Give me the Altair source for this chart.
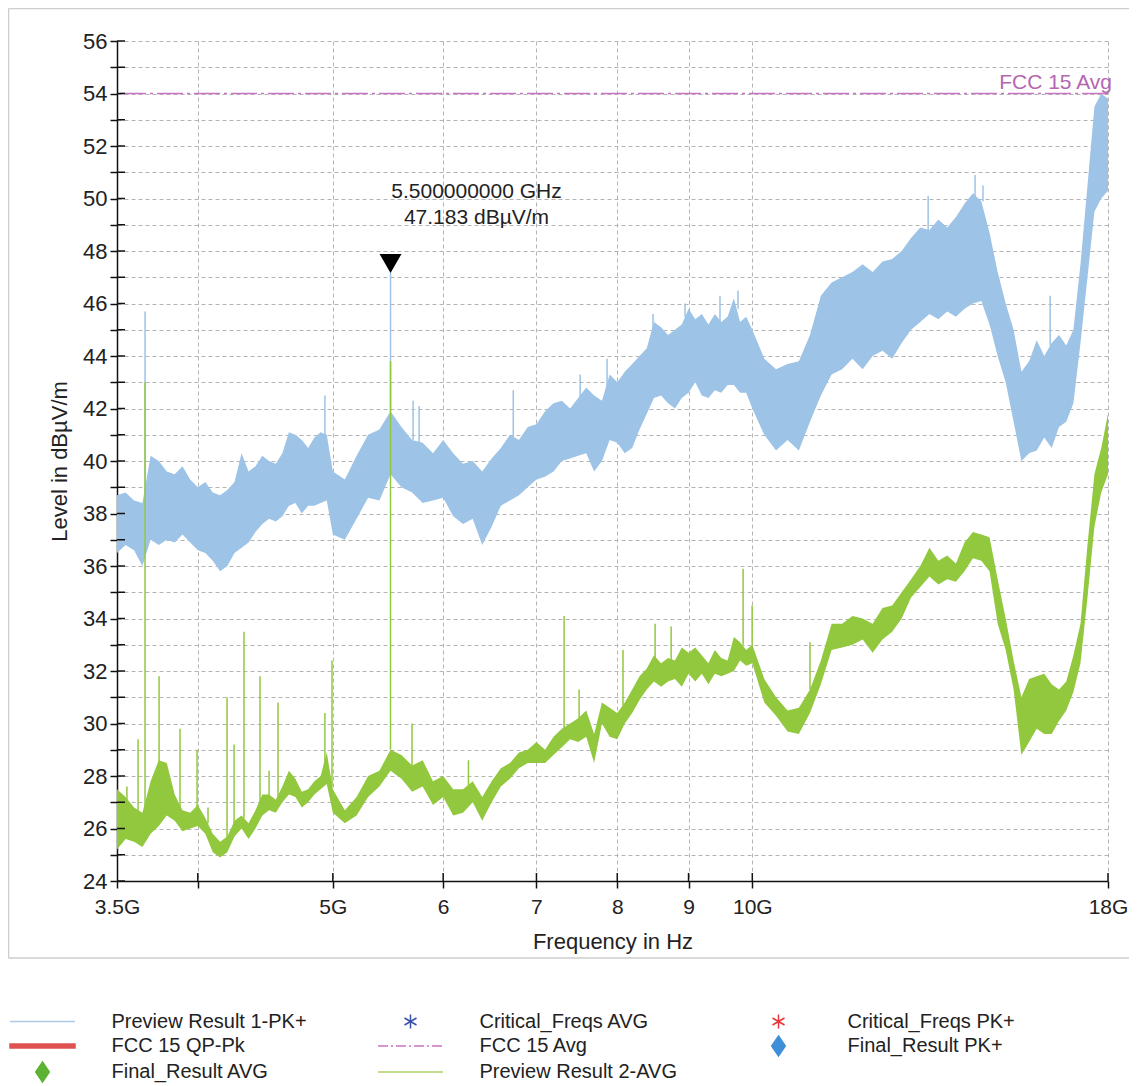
import altair as alt
import pandas as pd

FONT = "Liberation Sans"

# ---------------- data ----------------
freq_ghz = [3.50, 3.55, 3.60, 3.65, 3.70, 3.75, 3.80, 3.85, 3.90, 3.95,
            4.00, 4.05, 4.10, 4.15, 4.20, 4.25, 4.30, 4.35, 4.40, 4.45,
            4.50, 4.55, 4.60, 4.65, 4.70, 4.75, 4.80, 4.85, 4.90, 4.95,
            5.0, 5.1, 5.2, 5.3, 5.4, 5.5, 5.6, 5.7, 5.8, 5.9,
            6.0, 6.1, 6.2, 6.3, 6.4, 6.5, 6.6, 6.7, 6.8, 6.9,
            7.0, 7.1, 7.2, 7.3, 7.4, 7.5, 7.6, 7.7, 7.8, 7.9,
            8.0, 8.1, 8.2, 8.3, 8.4, 8.5, 8.6, 8.7, 8.8, 8.9,
            9.0, 9.1, 9.2, 9.3, 9.4, 9.5, 9.6, 9.7, 9.8, 9.9,
            10.0, 10.2, 10.4, 10.6, 10.8, 11.0, 11.2, 11.4, 11.6, 11.8,
            12.0, 12.2, 12.4, 12.6, 12.8, 13.0, 13.2, 13.4, 13.6, 13.8,
            14.0, 14.2, 14.4, 14.6, 14.8, 15.0, 15.2, 15.4, 15.6, 15.8,
            16.0, 16.2, 16.4, 16.6, 16.8, 17.0, 17.2, 17.4, 17.6, 17.8,
            18.0]

pk_low = [36.5, 36.8, 36.6, 36.0, 37.0, 36.8, 37.0, 36.9, 37.2, 36.9,
          36.6, 36.5, 36.2, 35.8, 36.0, 36.5, 36.7, 36.9, 37.3, 37.6,
          37.8, 37.7, 37.9, 38.3, 38.4, 38.0, 38.3, 38.3, 38.4, 38.5,
          37.2, 37.0, 37.8, 38.6, 38.5, 39.5, 39.0, 38.8, 38.4, 38.5,
          38.6, 37.9, 37.6, 37.8, 36.8, 37.5, 38.3, 38.5, 38.7, 39.0,
          39.3, 39.4, 39.6, 40.0, 40.1, 40.2, 40.3, 39.6, 40.0, 40.8,
          40.7, 40.3, 40.5, 41.2, 41.8, 42.4, 42.5, 42.2, 42.0, 42.4,
          42.6, 43.0, 42.5, 42.4, 42.7, 42.6, 42.9, 42.9, 42.6, 42.6,
          42.0, 41.0, 40.4, 40.8, 40.4, 41.5, 42.5, 43.3, 43.5, 43.9,
          43.5, 44.0, 44.2, 43.9, 44.5, 45.0, 45.3, 45.6, 45.4, 45.7,
          45.5, 45.8, 46.0, 46.1, 45.2, 44.0, 43.0, 41.5, 40.0, 40.3,
          40.4, 40.9, 40.5, 41.3, 41.5, 42.2, 44.5, 47.0, 49.5, 50.0,
          50.3]

pk_high = [38.7, 38.8, 38.5, 38.4, 40.2, 40.0, 39.6, 39.5, 39.8, 39.3,
           39.0, 39.2, 38.8, 38.7, 38.9, 39.2, 40.3, 39.6, 39.8, 40.2,
           40.0, 39.9, 40.3, 41.1, 41.0, 40.8, 40.5, 40.9, 41.1, 41.0,
           39.6, 39.3, 40.2, 41.0, 41.2, 41.9, 41.3, 40.8, 40.7, 40.3,
           40.8, 40.3, 39.9, 40.0, 39.6, 40.1, 40.5, 41.0, 40.8, 41.3,
           41.4, 41.9, 42.2, 42.3, 42.0, 42.4, 42.8, 42.5, 42.3, 43.3,
           43.0, 43.4, 43.7, 44.0, 44.3, 45.3, 45.1, 44.8, 45.0, 45.2,
           45.8, 45.4, 45.6, 45.2, 45.6, 45.3, 45.5, 46.2, 45.3, 45.5,
           45.0, 43.9, 43.5, 43.7, 43.8, 44.8, 46.3, 46.8, 47.0, 47.2,
           47.5, 47.2, 47.6, 47.7, 48.0, 48.5, 48.9, 48.8, 49.2, 48.9,
           49.3, 49.8, 50.2, 49.9, 48.7, 47.2, 46.0, 45.0, 43.4, 43.8,
           44.6, 44.0, 44.5, 44.8, 44.4, 45.0, 47.5, 50.5, 53.5, 54.0,
           53.8]

avg_low = [25.2, 25.6, 25.5, 25.3, 25.8, 26.1, 26.5, 26.3, 25.9, 26.0,
           26.1, 25.8, 25.1, 24.9, 25.1, 25.7, 26.0, 25.6, 26.0, 26.5,
           26.7, 26.6, 27.0, 27.3, 27.2, 26.8, 27.0, 27.3, 27.5, 27.7,
           26.6, 26.2, 26.5, 27.2, 27.6, 28.2, 27.9, 27.4, 27.6, 26.9,
           27.2, 26.5, 26.6, 27.0, 26.3, 27.0, 27.6, 27.9, 28.3, 28.5,
           28.5, 28.5, 28.8, 29.1, 29.4, 29.3, 29.5, 28.5, 30.0, 29.5,
           29.4, 30.0, 30.4, 30.9, 31.3, 31.6, 31.4, 31.6, 31.7, 31.4,
           31.9, 31.6, 31.9, 31.5, 31.9, 31.8, 31.9, 32.0, 32.4, 32.2,
           32.3, 30.8, 30.3, 29.7, 29.6, 30.4, 31.5, 32.8, 32.9, 33.0,
           33.2, 32.7, 33.2, 33.5, 34.0, 34.8, 35.2, 35.6, 35.3, 35.5,
           35.4, 35.8, 36.3, 36.2, 35.8, 33.8, 32.8, 31.3, 28.8, 29.3,
           29.8, 29.6, 29.6, 30.1, 30.5, 31.2, 32.3, 34.8, 37.5, 38.8,
           39.5]

avg_high = [27.5, 27.2, 26.8, 26.6, 27.8, 28.6, 28.5, 27.3, 26.7, 26.6,
            26.9, 26.4, 25.8, 25.5, 25.7, 26.3, 26.5, 26.2, 26.7, 27.3,
            27.3, 27.1, 27.6, 28.2, 27.9, 27.4, 27.5, 27.8, 28.0, 28.9,
            27.5, 26.7, 27.2, 28.0, 28.2, 29.0, 28.8, 28.4, 28.6, 27.8,
            28.0, 27.5, 27.5, 27.8, 27.2, 27.8, 28.3, 28.5, 28.9, 29.0,
            29.3, 29.0, 29.5, 29.8, 30.0, 30.2, 30.5, 29.6, 30.8, 30.6,
            30.4, 30.8, 31.3, 31.8, 32.1, 32.6, 32.3, 32.5, 32.4, 32.9,
            32.7, 32.9, 32.6, 32.3, 32.8, 32.5, 32.4, 33.3, 33.1, 32.8,
            33.0, 31.7, 31.0, 30.5, 30.6, 31.3, 32.4, 33.8, 33.8, 34.1,
            34.0, 33.8, 34.4, 34.5, 35.0, 35.5, 36.0, 36.7, 36.2, 36.4,
            36.1, 36.9, 37.3, 37.2, 37.1, 35.5, 34.0, 32.4, 31.0, 31.7,
            31.8, 31.9, 31.5, 31.3, 31.6, 32.6, 33.8, 36.8, 39.5, 40.5,
            41.8]

pk_spike_freq = [3.666, 4.935, 5.5, 5.709, 5.766, 6.737, 7.524, 7.866, 8.487,
                 8.948, 9.480, 9.767, 13.372, 14.45, 14.64, 16.36]
pk_spike_base = [38.4, 40.8, 41.9, 40.8, 40.7, 40.9, 42.4, 42.5, 45.0,
                 45.5, 45.3, 45.8, 48.8, 50.1, 49.9, 44.4]
pk_spike_top = [45.7, 42.5, 47.183, 42.3, 42.1, 42.7, 43.3, 43.9, 45.6,
                46.0, 46.3, 46.5, 50.1, 50.9, 50.5, 46.3]

avg_spike_freq = [3.558, 3.624, 3.666, 3.752, 3.884, 3.995, 4.068, 4.198, 4.247,
                  4.317, 4.433, 4.500, 4.567, 4.935, 4.993, 5.5, 5.699, 6.256,
                  7.327, 7.511, 8.076, 8.516, 8.745, 9.849, 9.997, 11.0]
avg_spike_base = [26.5, 26.6, 26.6, 28.3, 26.6, 26.8, 26.2, 25.6, 26.2,
                  26.4, 26.6, 27.2, 27.1, 28.5, 27.6, 29.0, 28.4, 27.5,
                  29.8, 30.1, 30.7, 32.5, 32.4, 33.0, 33.0, 31.3]
avg_spike_top = [27.6, 29.4, 43.0, 31.8, 29.8, 29.0, 26.8, 31.0, 29.2,
                 33.5, 31.8, 28.2, 30.8, 30.4, 32.4, 43.8, 30.0, 28.6,
                 34.1, 31.3, 32.8, 33.8, 33.7, 35.9, 34.5, 33.1]

limit_name = ["FCC 15 Avg"]
limit_level = [54]
limit_label_freq = [18.0]

marker_freq = [5.5]
marker_level = [47.183]

x_ticks = [3.5, 4, 5, 6, 7, 8, 9, 10, 18]
x_tick_labels = ["3.5G", "", "5G", "6", "7", "8", "9", "10G", "18G"]
y_ticks = list(range(24, 57))

legend_names = ["Preview Result 1-PK+", "Critical_Freqs AVG", "Critical_Freqs PK+",
                "FCC 15 QP-Pk", "FCC 15 Avg", "Final_Result PK+",
                "Final_Result AVG", "Preview Result 2-AVG"]

# ---------------- styles ----------------
BLUE = "#9DC3E6"
GREEN = "#92C83E"
LIMIT = "#C774C2"
GRID = "#B4B4B4"
AXIS = "#111111"
FRAME = "#CDCDCD"

LINE = "M-3.25,0H3.25"
THICK = "M-3.25,-0.2H3.25V0.2H-3.25Z"
DASHDOT = "M-3.25,0H-2.25M-1.95,0H-1.75M-1.45,0H-0.45M-0.15,0H0.05M0.35,0H1.35M1.65,0H1.85M2.15,0H3.15"
STAR = "M0,-0.7V0.7M-0.6,-0.35L0.6,0.35M-0.6,0.35L0.6,-0.35"
DIAMOND = "M0,-1L0.68,0L0,1L-0.68,0Z"

legend_fill = ["transparent", "transparent", "transparent", "#E05252", "transparent",
               "#3D8FD8", "#5DB233", "transparent"]
legend_stroke = ["#A9CBE8", "#3A4FA8", "#E8353A", "#E05252", LIMIT,
                 "#3D8FD8", "#5DB233", "#AFCF6A"]
legend_shape = [LINE, STAR, STAR, THICK, DASHDOT, DIAMOND, DIAMOND, LINE]

# ---------------- tables ----------------
band = pd.DataFrame({"freq": freq_ghz, "pk_lo": pk_low, "pk_hi": pk_high,
                     "av_lo": avg_low, "av_hi": avg_high})
pk_spk = pd.DataFrame({"freq": pk_spike_freq, "base": pk_spike_base, "top": pk_spike_top})
av_spk = pd.DataFrame({"freq": avg_spike_freq, "base": avg_spike_base, "top": avg_spike_top})
limit_df = pd.DataFrame({"name": limit_name, "level": limit_level, "freq": limit_label_freq})
marker_df = pd.DataFrame({"freq": marker_freq, "level": marker_level})
marker_df["line1"] = [f"{f:.9f} GHz" for f in marker_freq]
marker_df["line2"] = [f"{v:.3f} dBµV/m" for v in marker_level]
legend_df = pd.DataFrame({"series": legend_names})
xtick_df = pd.DataFrame({"freq": x_ticks[1:]})
ytick_df = pd.DataFrame({"level": y_ticks})

label_expr = " : ".join(f"datum.value == {v} ? '{l}'" for v, l in zip(x_ticks, x_tick_labels)) + " : ''"

x_scale = alt.Scale(type="log", domain=[3.5, 18], nice=False)
y_scale = alt.Scale(domain=[24, 56], nice=False, zero=False)

x_axis = alt.Axis(values=x_ticks, labelExpr=label_expr, title="Frequency in Hz",
                  tickSize=7, labelPadding=8, titlePadding=14, labelFlush=False,
                  labelOverlap=False, grid=True, gridDash=[4, 3], gridColor=GRID,
                  domainColor=AXIS, tickColor=AXIS, domainWidth=1.5, tickWidth=1.5,
                  labelFont=FONT, titleFont=FONT, labelFontSize=21, titleFontSize=22,
                  titleFontWeight="normal", labelColor="#222", titleColor="#222")
y_axis = alt.Axis(values=y_ticks, labelExpr="datum.value % 2 == 0 ? datum.value : ''",
                  title="Level in dBµV/m", tickSize=7, labelPadding=3, titlePadding=11,
                  grid=True, gridDash=[4, 3], gridColor=GRID,
                  domainColor=AXIS, tickColor=AXIS, domainWidth=1.5, tickWidth=1.5,
                  labelFont=FONT, titleFont=FONT, labelFontSize=22, titleFontSize=22,
                  titleFontWeight="normal", labelColor="#222", titleColor="#222")

def X(field="freq"):
    return alt.X(f"{field}:Q", scale=x_scale, axis=x_axis)

def Y(field):
    return alt.Y(f"{field}:Q", scale=y_scale, axis=y_axis)

pk_area = alt.Chart(band).mark_area(color=BLUE, opacity=1, clip=True).encode(
    x=X(), y=Y("pk_lo"), y2="pk_hi:Q")
pk_rules = alt.Chart(pk_spk).mark_rule(color=BLUE, strokeWidth=1.5, clip=True).encode(
    x=X(), y=Y("base"), y2="top:Q")
av_area = alt.Chart(band).mark_area(color=GREEN, opacity=1, clip=True).encode(
    x=X(), y=Y("av_lo"), y2="av_hi:Q")
av_rules = alt.Chart(av_spk).mark_rule(color=GREEN, strokeWidth=1.5, clip=True).encode(
    x=X(), y=Y("base"), y2="top:Q")

limit_rule = alt.Chart(limit_df).mark_rule(color=LIMIT, strokeWidth=1.3, strokeDash=[26, 4, 3, 4]).encode(
    y=Y("level"))
limit_text = alt.Chart(limit_df).mark_text(align="right", baseline="middle", dx=4, dy=-11,
                                           font=FONT, fontSize=21, color="#B466B0").encode(
    x=X(), y=Y("level"), text="name:N")

marker = alt.Chart(marker_df).mark_point(shape="triangle-down", filled=True, color="black",
                                         size=480, opacity=1, yOffset=-9).encode(
    x=X(), y=Y("level"))
mtext1 = alt.Chart(marker_df).mark_text(dx=86, dy=-80, font=FONT, fontSize=21, color="#222").encode(
    x=X(), y=Y("level"), text="line1:N")
mtext2 = alt.Chart(marker_df).mark_text(dx=86, dy=-54, font=FONT, fontSize=21, color="#222").encode(
    x=X(), y=Y("level"), text="line2:N")

# inner halves of the crossing tick marks
ytick_in = alt.Chart(ytick_df).mark_rule(color=AXIS, strokeWidth=1.5).encode(
    y=Y("level"), x=alt.value(0), x2=alt.value(8))
xtick_in = alt.Chart(xtick_df).mark_rule(color=AXIS, strokeWidth=1.5).encode(
    x=X(), y=alt.value(832), y2=alt.value(840))

# outer frame (top, left, bottom) kept inside the canvas
frame_top = alt.Chart(limit_df).mark_rule(color=FRAME, strokeWidth=1.5).encode(
    x=alt.value(-108.5), x2=alt.value(1012), y=alt.value(-32.5))
frame_left = alt.Chart(limit_df).mark_rule(color=FRAME, strokeWidth=1.5).encode(
    x=alt.value(-108.5), y=alt.value(-32.5), y2=alt.value(917))
frame_bottom = alt.Chart(limit_df).mark_rule(color=FRAME, strokeWidth=1.5).encode(
    x=alt.value(-108.5), x2=alt.value(1012), y=alt.value(917))

leg = alt.Legend(orient="none", legendX=-107.5, legendY=968, columns=3, direction="horizontal",
                 title=None, labelFont=FONT, labelFontSize=20, labelColor="#222", symbolSize=400,
                 symbolStrokeWidth=1.5, labelOffset=58, symbolOffset=22, rowPadding=0,
                 columnPadding=65, gridAlign="all", symbolFillColor="transparent",
                 symbolStrokeColor="transparent", symbolOpacity=1, labelLimit=400, padding=0)
legend_layer = alt.Chart(legend_df).transform_filter("false").mark_point(filled=True).encode(
    fill=alt.Fill("series:N", scale=alt.Scale(domain=legend_names, range=legend_fill), legend=leg),
    stroke=alt.Stroke("series:N", scale=alt.Scale(domain=legend_names, range=legend_stroke), legend=leg),
    shape=alt.Shape("series:N", scale=alt.Scale(domain=legend_names, range=legend_shape), legend=leg))

chart = alt.layer(pk_area, limit_rule, pk_rules, av_area, av_rules, marker,
                  mtext1, mtext2, limit_text, ytick_in, xtick_in,
                  frame_top, frame_left, frame_bottom, legend_layer).properties(
    width=991, height=840,
    autosize=alt.AutoSizeParams(type="none"),
    padding={"left": 109, "top": 33, "right": 22, "bottom": 202},
).configure(background="white").configure_view(strokeWidth=0)

chart.save("out.html", embed_options={"renderer": "svg", "actions": False})
